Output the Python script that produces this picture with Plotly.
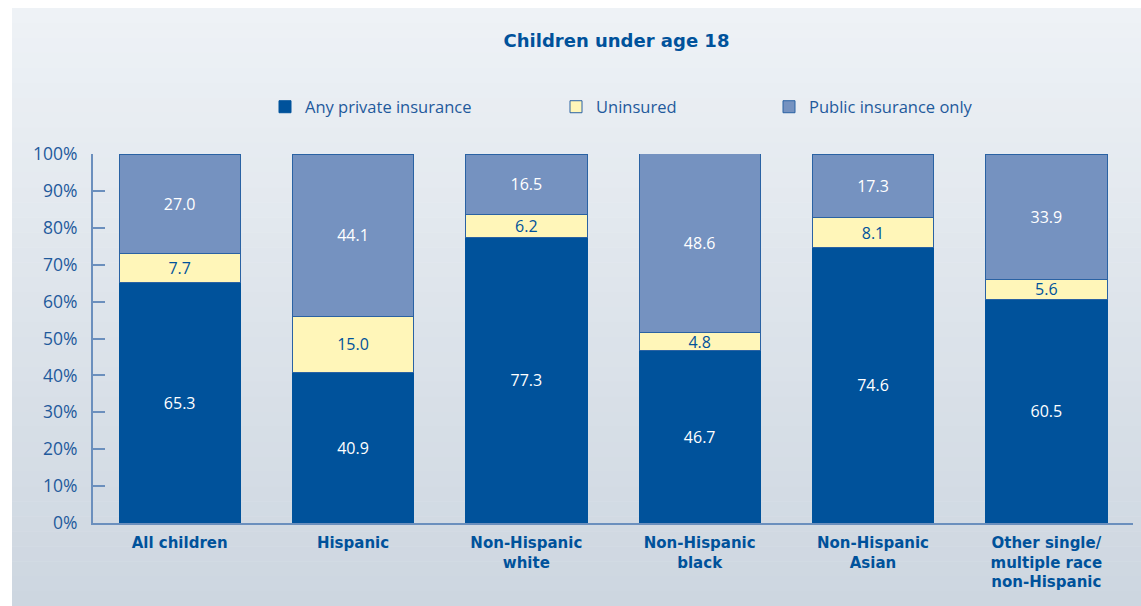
import plotly.graph_objects as go

categories = ["All children", "Hispanic", "Non-Hispanic<br>white", "Non-Hispanic<br>black",
              "Non-Hispanic<br>Asian", "Other single/<br>multiple race<br>non-Hispanic"]
private = [65.3, 40.9, 77.3, 46.7, 74.6, 60.5]
uninsured = [7.7, 15.0, 6.2, 4.8, 8.1, 5.6]
public = [27.0, 44.1, 16.5, 48.6, 17.3, 33.9]
ytick_vals = [0, 10, 20, 30, 40, 50, 60, 70, 80, 90, 100]
ytick_text = [f"{v}%" for v in ytick_vals]

W, H = 1141, 606
L, R, T, B = 93, 8, 154, 83
pw, ph = W - L - R, H - T - B

def px_x(px):
    return (px - L) / pw

def px_y(py):
    return (H - B - py) / ph

DARK = "#00529b"
YELLOW = "#fff6b9"
LIGHT = "#7592c0"
EDGE = "#2a62a3"
AXIS = "#6b8fbd"
TXT = "#1f5a9c"
FONT = "Open Sans"
BOLDFONT = "DejaVu Sans"

fig = go.Figure()
fig.add_trace(go.Bar(x=categories, y=private, name="Any private insurance",
                     marker=dict(color=DARK, line=dict(color=DARK, width=1)),
                     texttemplate="%{y:.1f}", textposition="inside", insidetextanchor="middle",
                     textangle=0, textfont=dict(color="white", size=16, family=FONT),
                     legend="legend", showlegend=True))
fig.add_trace(go.Bar(x=categories, y=uninsured, name="Uninsured",
                     marker=dict(color=YELLOW, line=dict(color=EDGE, width=1)),
                     texttemplate="%{y:.1f}", textposition="inside", insidetextanchor="middle",
                     textangle=0, textfont=dict(color=DARK, size=16, family=FONT),
                     legend="legend2", showlegend=True))
fig.add_trace(go.Bar(x=categories, y=public, name="Public insurance only",
                     marker=dict(color=LIGHT, line=dict(color=EDGE, width=1)),
                     texttemplate="%{y:.1f}", textposition="inside", insidetextanchor="middle",
                     textangle=0, textfont=dict(color="white", size=16, family=FONT),
                     legend="legend3", showlegend=True))

# background gradient bands
shapes = []
top_px, bot_px, left_px = 8, H, 12
n = 40
c0 = (238, 242, 246)
c1 = (205, 214, 224)
for i in range(n):
    y0 = top_px + (bot_px - top_px) * i / n
    y1 = top_px + (bot_px - top_px) * (i + 1) / n
    t = (i + 0.5) / n
    col = tuple(round(a + (b - a) * t) for a, b in zip(c0, c1))
    shapes.append(dict(type="rect", xref="paper", yref="paper", layer="below",
                       x0=px_x(left_px), x1=px_x(W + 2), y0=px_y(y1 + 0.5), y1=px_y(y0),
                       fillcolor=f"rgb{col}", line=dict(width=0)))

legend_common = dict(orientation="h", xanchor="left", yanchor="middle",
                     bgcolor="rgba(0,0,0,0)", borderwidth=0,
                     font=dict(family=FONT, size=16.5, color=TXT))

fig.update_layout(
    width=W, height=H,
    margin=dict(l=L, r=R, t=T, b=B, pad=0),
    barmode="stack", bargap=0.30,
    showlegend=True,
    uniformtext=dict(minsize=16, mode="show"),
    paper_bgcolor="white", plot_bgcolor="rgba(0,0,0,0)",
    shapes=shapes,
    title=dict(text="<b>Children under age 18</b>", x=px_x(616.5), xref="paper", xanchor="center",
               y=1 - 41 / H, yref="container", yanchor="middle",
               font=dict(family=BOLDFONT, size=18, color=DARK)),
    legend=dict(x=px_x(279 - 14), y=px_y(107), **legend_common),
    legend2=dict(x=px_x(570 - 14), y=px_y(107), **legend_common),
    legend3=dict(x=px_x(783 - 14), y=px_y(107), **legend_common),
    xaxis=dict(range=[-0.5, 5.5], showline=True, linecolor=AXIS, linewidth=2,
               ticks="", showgrid=False, zeroline=False, ticklabelstandoff=5,
               tickfont=dict(family=BOLDFONT, size=15, color=DARK, weight="bold")),
    yaxis=dict(range=[0, 100], tickvals=ytick_vals, ticktext=ytick_text,
               showline=True, linecolor=AXIS, linewidth=2,
               ticks="inside", ticklen=12, tickwidth=2, tickcolor=AXIS,
               ticklabelstandoff=10,
               showgrid=False, zeroline=False,
               tickfont=dict(family=FONT, size=17.5, color=TXT)),
)

fig.write_html("out.html")
